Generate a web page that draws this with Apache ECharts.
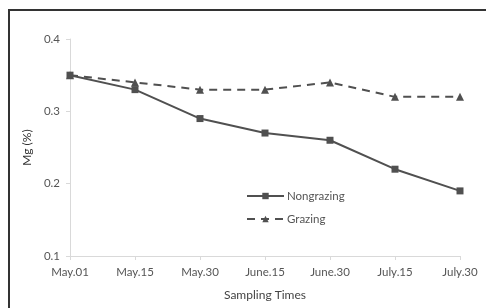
<!DOCTYPE html>
<html>
<head>
<meta charset="utf-8">
<script src="https://cdn.jsdelivr.net/npm/echarts@6/dist/echarts.min.js"></script>
<style>
  html, body { margin: 0; padding: 0; background: #fff; }
  #chart { width: 486px; height: 308px; }
</style>
</head>
<body>
<div id="chart"></div>
<script>
const dates = ['May.01', 'May.15', 'May.30', 'June.15', 'June.30', 'July.15', 'July.30'];
const nongrazing = [0.35, 0.33, 0.29, 0.27, 0.26, 0.22, 0.19];
const grazing = [0.35, 0.34, 0.33, 0.33, 0.34, 0.32, 0.32];

const FONT = 'Lato';
const TEXT = '#555';
const LINE = '#505050';

const chart = echarts.init(document.getElementById('chart'));

chart.setOption({
  backgroundColor: '#fff',
  animation: false,
  textStyle: { fontFamily: FONT },
  graphic: [{
    type: 'polyline',
    shape: { points: [[9, 308], [9, 10], [486, 10]] },
    style: { stroke: '#333', lineWidth: 2, fill: null }
  }],
  grid: { left: 70, right: 26, top: 39, bottom: 52 },
  legend: {
    orient: 'vertical',
    left: 241,
    top: 185,
    itemWidth: 37,
    itemHeight: 8,
    itemGap: 11,
    textStyle: { color: TEXT, fontSize: 11.5, fontFamily: FONT, padding: [0, 0, 0, -2] },
    data: ['Nongrazing', 'Grazing']
  },
  xAxis: {
    type: 'category',
    data: dates,
    boundaryGap: false,
    name: 'Sampling Times',
    nameLocation: 'middle',
    nameGap: 33,
    nameTextStyle: { color: '#444', fontSize: 12, fontFamily: FONT },
    axisLine: { lineStyle: { color: '#d9d9d9' } },
    axisTick: { show: true, length: 4, alignWithLabel: true, lineStyle: { color: '#d9d9d9' } },
    axisLabel: { color: TEXT, fontSize: 11.5, margin: 10, fontFamily: FONT, interval: 0 },
    splitLine: { show: false }
  },
  yAxis: {
    type: 'value',
    min: 0.1,
    max: 0.4,
    interval: 0.1,
    name: 'Mg (%)',
    nameLocation: 'middle',
    nameGap: 36,
    nameTextStyle: { color: '#333', fontSize: 12, fontFamily: FONT },
    axisLine: { show: true, lineStyle: { color: '#d9d9d9' } },
    axisTick: { show: true, length: 4, lineStyle: { color: '#d9d9d9' } },
    axisLabel: { color: TEXT, fontSize: 11.5, margin: 10, fontFamily: FONT, formatter: v => v.toFixed(1) },
    splitLine: { show: false }
  },
  series: [
    {
      name: 'Nongrazing',
      type: 'line',
      data: nongrazing,
      symbol: 'rect',
      symbolSize: 7,
      itemStyle: { color: LINE },
      lineStyle: { color: LINE, width: 2 }
    },
    {
      name: 'Grazing',
      type: 'line',
      data: grazing,
      symbol: 'triangle',
      symbolSize: 8,
      itemStyle: { color: LINE },
      lineStyle: { color: LINE, width: 2, type: [8, 6] }
    }
  ]
});
</script>
</body>
</html>
